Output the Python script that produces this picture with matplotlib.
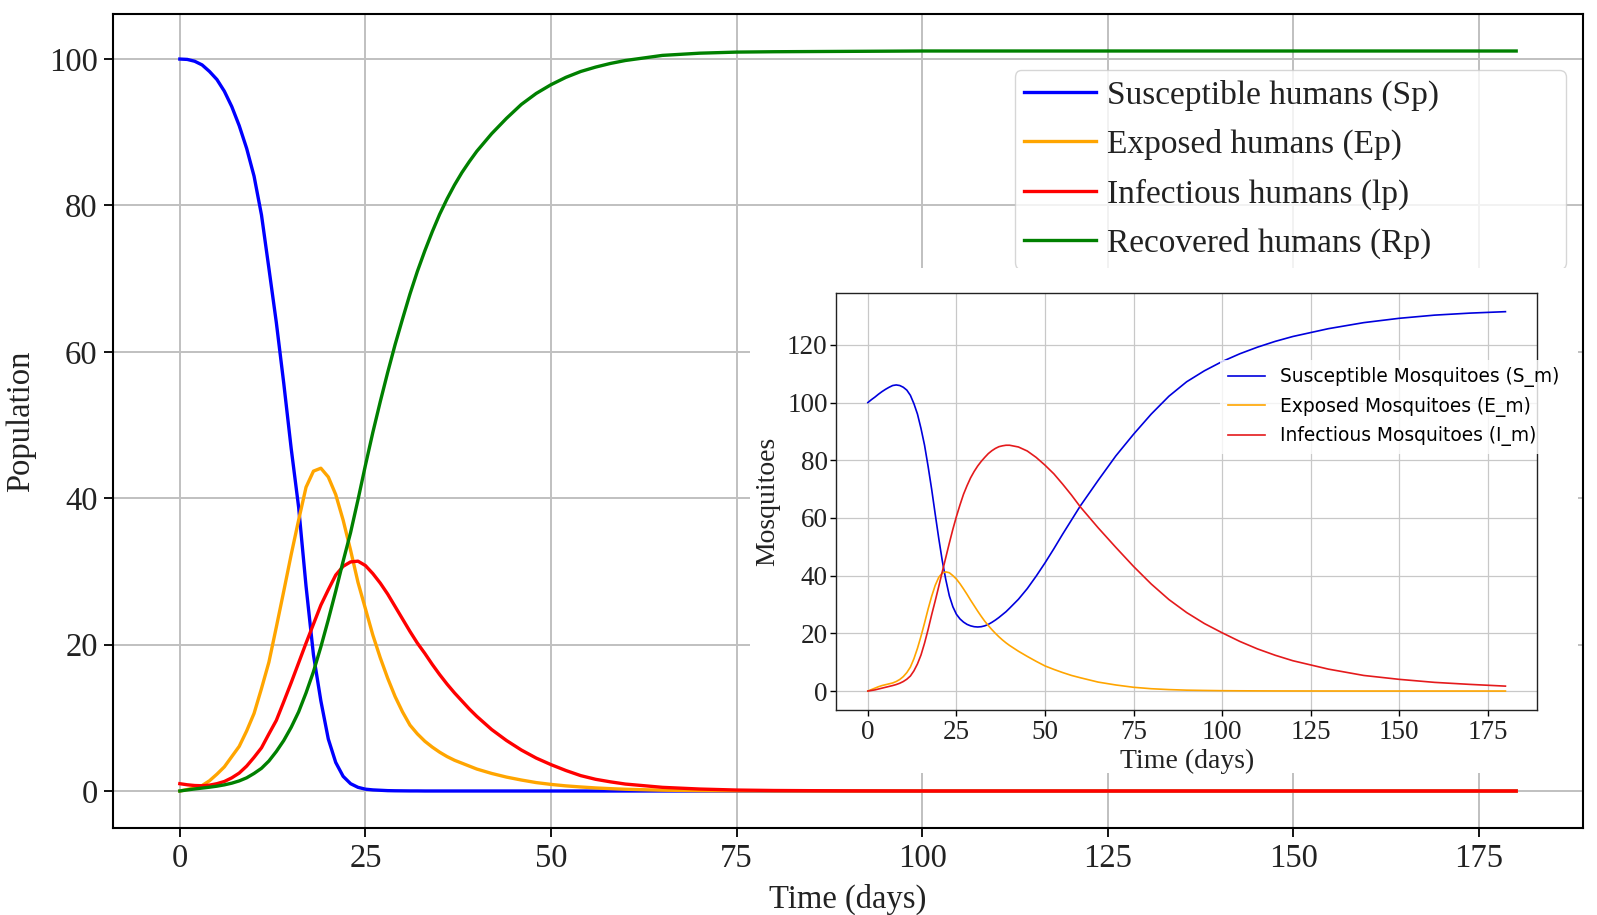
import matplotlib
matplotlib.use("Agg")
import matplotlib.pyplot as plt
from matplotlib.patches import Rectangle

# ---------------- data: humans (main panel) ----------------
t_h = [0, 1, 2, 3, 4, 5, 6, 7, 8, 9, 10, 11, 12, 13, 14, 15, 16, 17, 18, 19,
       20, 21, 22, 23, 24, 25, 26, 27, 28, 29, 30, 31, 32, 33, 34, 35, 36, 37, 38, 39,
       40, 42, 44, 46, 48, 50, 52, 54, 56, 58, 60, 65, 70, 75, 80, 90, 100, 120, 140, 160, 180]

Sp = [100.0, 99.95, 99.7, 99.2, 98.3, 97.2, 95.6, 93.5, 90.9, 87.8,
      84.0, 78.7, 71.4, 64.0, 55.7, 46.8, 38.8, 28.0, 18.6, 12.3,
      7.1, 3.9, 2.0, 1.0, 0.5, 0.25, 0.15, 0.1, 0.05, 0.03,
      0.02, 0.01, 0.01, 0.0, 0.0, 0.0, 0.0, 0.0, 0.0, 0.0,
      0.0, 0.0, 0.0, 0.0, 0.0, 0.0, 0.0, 0.0, 0.0, 0.0,
      0.0, 0.0, 0.0, 0.0, 0.0, 0.0, 0.0, 0.0, 0.0, 0.0, 0.0]

Ep = [0.0, 0.2, 0.45, 0.75, 1.4, 2.3, 3.3, 4.7, 6.1, 8.2,
      10.6, 14.0, 17.6, 22.4, 27.3, 32.3, 37.0, 41.5, 43.7, 44.1,
      42.9, 40.5, 37.0, 32.9, 28.5, 24.9, 21.3, 18.2, 15.4, 12.9,
      10.8, 9.0, 7.8, 6.8, 6.0, 5.3, 4.7, 4.2, 3.8, 3.4,
      3.0, 2.4, 1.9, 1.5, 1.15, 0.9, 0.7, 0.55, 0.42, 0.32,
      0.24, 0.11, 0.05, 0.02, 0.01, 0.0, 0.0, 0.0, 0.0, 0.0, 0.0]

Ip = [1.0, 0.85, 0.75, 0.72, 0.8, 1.0, 1.3, 1.8, 2.45, 3.4,
      4.6, 5.9, 7.8, 9.65, 12.2, 14.8, 17.5, 20.2, 22.8, 25.4,
      27.5, 29.5, 30.7, 31.3, 31.4, 30.8, 29.7, 28.4, 26.9, 25.2,
      23.5, 21.8, 20.2, 18.8, 17.3, 15.9, 14.6, 13.4, 12.3, 11.2,
      10.2, 8.4, 6.9, 5.6, 4.5, 3.6, 2.8, 2.1, 1.6, 1.25,
      0.95, 0.5, 0.27, 0.13, 0.07, 0.02, 0.0, 0.0, 0.0, 0.0, 0.0]

Rp = [0.0, 0.15, 0.28, 0.4, 0.52, 0.66, 0.84, 1.07, 1.38, 1.8,
      2.4, 3.1, 4.1, 5.4, 6.9, 8.7, 10.8, 13.4, 16.3, 19.7,
      23.4, 27.3, 31.4, 35.3, 39.8, 44.5, 49.0, 53.2, 57.2, 61.0,
      64.5, 67.9, 71.0, 73.8, 76.4, 78.8, 80.9, 82.8, 84.5, 86.0,
      87.4, 89.8, 91.9, 93.8, 95.3, 96.5, 97.5, 98.3, 98.9, 99.4,
      99.8, 100.5, 100.8, 100.95, 101.0, 101.05, 101.1, 101.1, 101.1, 101.1, 101.1]

# ---------------- data: mosquitoes (inset) ----------------
t_m = [0, 1, 2, 3, 4, 5, 6, 7, 8, 9, 10, 11, 12, 13, 14, 15, 16, 17, 18, 19,
       20, 21, 22, 23, 24, 25, 26, 27, 28, 29, 30, 31, 32, 33, 34, 35, 36, 37, 38, 39,
       40, 42.5, 45, 47.5, 50, 52.5, 55, 57.5, 60, 65, 70, 75, 80, 85, 90, 95, 100,
       105, 110, 115, 120, 130, 140, 150, 160, 170, 180]

Sm = [100.0, 101.0, 101.9, 102.9, 103.8, 104.6, 105.3, 105.9, 106.1, 105.9,
      105.3, 104.3, 102.5, 99.6, 96.0, 91.0, 85.2, 77.9, 70.0, 61.4,
      53.0, 45.2, 38.6, 33.0, 29.2, 26.6, 25.0, 23.9, 23.1, 22.6,
      22.3, 22.2, 22.3, 22.6, 23.1, 23.8, 24.6, 25.5, 26.5, 27.5,
      28.7, 31.8, 35.5, 39.8, 44.4, 49.3, 54.4, 59.3, 64.2, 73.0,
      81.5, 89.0, 96.0, 102.2, 107.2, 111.0, 114.2, 116.9, 119.2, 121.2,
      122.9, 125.6, 127.7, 129.2, 130.3, 131.0, 131.5]

Em = [0.0, 0.5, 1.0, 1.5, 1.9, 2.2, 2.5, 2.8, 3.3, 4.0,
      5.0, 6.4, 8.3, 11.2, 14.8, 19.0, 23.6, 28.4, 32.8, 36.6,
      39.4, 40.9, 41.3, 41.0, 40.0, 38.8, 37.2, 35.4, 33.5, 31.5,
      29.6, 27.7, 25.9, 24.2, 22.7, 21.3, 20.0, 18.8, 17.7, 16.7,
      15.8, 13.8, 12.0, 10.3, 8.7, 7.5, 6.4, 5.4, 4.6, 3.1,
      2.1, 1.3, 0.8, 0.5, 0.3, 0.2, 0.12, 0.08, 0.05, 0.03,
      0.02, 0.01, 0.0, 0.0, 0.0, 0.0, 0.0]

Im = [0.0, 0.2, 0.4, 0.7, 1.0, 1.3, 1.6, 1.9, 2.25, 2.7,
      3.3, 4.1, 5.2, 7.0, 9.4, 12.5, 16.6, 21.3, 26.4, 31.2,
      36.2, 41.3, 46.3, 51.3, 56.1, 60.5, 64.5, 68.2, 71.2, 73.9,
      76.1, 78.0, 79.6, 81.0, 82.3, 83.3, 84.1, 84.7, 85.0, 85.2,
      85.2, 84.6, 83.2, 81.0, 78.3, 75.3, 71.7, 67.9, 63.8, 56.6,
      49.8, 43.2, 37.1, 31.7, 27.2, 23.4, 20.2, 17.2, 14.6, 12.4,
      10.5, 7.6, 5.4, 4.05, 3.0, 2.3, 1.7]

x_ticks = [0, 25, 50, 75, 100, 125, 150, 175]
y_ticks_main = [0, 20, 40, 60, 80, 100]
y_ticks_inset = [0, 20, 40, 60, 80, 100, 120]

human_labels = ['Susceptible humans (Sp)', 'Exposed humans (Ep)',
                'Infectious humans (lp)', 'Recovered humans (Rp)']
mosq_labels = ['Susceptible Mosquitoes (S_m)', 'Exposed Mosquitoes (E_m)',
               'Infectious Mosquitoes (I_m)']

# ---------------- figure ----------------
plt.rcParams['font.family'] = ['Liberation Serif', 'DejaVu Serif']
W, H = 1597, 915
fig = plt.figure(figsize=(W / 100, H / 100), dpi=100)
fig.patch.set_facecolor('white')


def fx(px):
    return px / W


def fy(py):
    return 1 - py / H


# main axes
ax = fig.add_axes([fx(113), fy(828), fx(1583) - fx(113), fy(14) - fy(828)])
ax.set_zorder(0)
for y, c, lab in zip([Sp, Ep, Ip, Rp], ['blue', 'orange', 'red', 'green'], human_labels):
    ax.plot(t_h, y, color=c, lw=2.4, label=lab)
ax.grid(True, color='#c0c0c0', lw=1.4)
ax.set_axisbelow(True)
ax.set_xticks(x_ticks)
ax.set_yticks(y_ticks_main)
ax.tick_params(direction='out', length=6.5, width=1.3, labelsize=23.5, pad=4.5,
               colors='black', labelcolor='#222222')
for s in ax.spines.values():
    s.set_linewidth(1.5)
    s.set_color('black')
ax.set_xlabel('Time (days)', fontsize=23.5, labelpad=7, color='#222222')
ax.set_ylabel('Population', fontsize=23.5, labelpad=9.5, color='#222222')
leg = ax.legend(loc='upper left', bbox_to_anchor=(0.6133, 0.5, 0.3751, 0.4312),
                mode='expand', borderaxespad=0, fontsize=24, handlelength=2.17,
                handletextpad=0.33, labelspacing=0.55, borderpad=0.28,
                frameon=True, fancybox=True, framealpha=0.8, edgecolor='0.8')
for txt in leg.get_texts():
    txt.set_color('#222222')

# white backdrop behind the inset
rect = Rectangle((fx(750), fy(773)), fx(1578) - fx(750), fy(268) - fy(773),
                 transform=fig.transFigure, facecolor='white', edgecolor='none', zorder=1)
fig.patches.append(rect)

# inset axes
ai = fig.add_axes([fx(836), fy(710), fx(1537.3) - fx(836), fy(292.7) - fy(710)])
ai.set_zorder(2)
for y, c, lab in zip([Sm, Em, Im], ['#0000dd', 'orange', '#e41a1c'], mosq_labels):
    ai.plot(t_m, y, color=c, lw=1.2, label=lab)
ai.grid(True, color='#c8c8c8', lw=0.9)
ai.set_axisbelow(True)
ai.set_xticks(x_ticks)
ai.set_yticks(y_ticks_inset)
ai.tick_params(direction='out', length=4.5, width=1.0, labelsize=19.5,
               labelcolor='#222222')
ai.tick_params(axis='y', pad=1.5)
ai.tick_params(axis='x', pad=3)
for s in ai.spines.values():
    s.set_linewidth(1.0)
    s.set_color('#222222')
ai.set_xlabel('Time (days)', fontsize=20, labelpad=2.5, color='#222222')
ai.set_ylabel('Mosquitoes', fontsize=20, labelpad=5, color='#222222')
ileg = ai.legend(loc='upper left', bbox_to_anchor=(0.548, 0.8387), borderaxespad=0,
                 prop={'family': 'DejaVu Sans', 'size': 13.4}, frameon=True,
                 framealpha=0.8, edgecolor='none', facecolor='white', fancybox=False)

fig.savefig('out.png', dpi=100)
